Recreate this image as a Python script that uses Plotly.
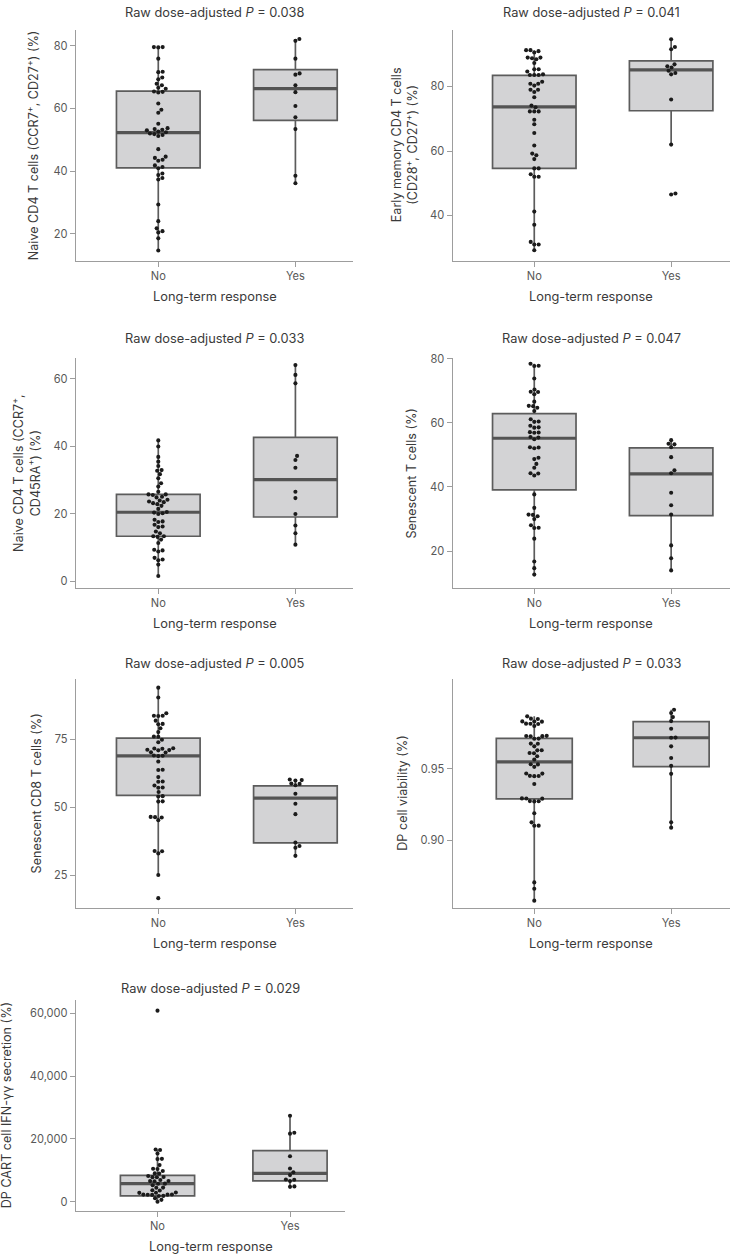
import numpy as np
import plotly.graph_objects as go

W, H = 731, 1255
categories = ["No", "Yes"]

# ---------------- data ----------------
p_values = ["0.038", "0.041", "0.033", "0.047", "0.005", "0.033", "0.029"]

p1_no = [79.6, 79.6, 79.5, 75.9, 71.7, 71.6, 69.9, 69.3, 67.9, 67.4, 66.6, 66.3, 65.4, 65.3, 65.1,
         61.6, 59.6, 58.6, 55.1, 53.7, 53.4, 53.2, 53.0, 52.6, 52.4, 52.0, 51.8, 51.5, 51.2, 47.0,
         44.6, 44.2, 43.6, 43.3, 41.8, 41.3, 40.9, 39.2, 38.7, 37.8, 37.3, 29.3, 24.0, 21.7, 20.8,
         20.4, 18.5, 14.6]
p1_yes = [82.2, 81.6, 75.9, 71.2, 70.8, 67.4, 65.2, 60.8, 57.2, 53.4, 38.5, 36.1]
p1_q1, p1_med, p1_q3 = [41.0, 56.2], [52.3, 66.3], [65.5, 72.4]
p1_lo, p1_hi = [14.6, 36.1], [79.6, 82.2]

p2_no = [91.3, 91.3, 91.0, 90.6, 89.0, 89.0, 88.8, 88.5, 87.3, 85.4, 85.4, 84.7, 83.8, 83.6, 83.6,
         83.6, 81.5, 80.9, 80.9, 80.3, 79.0, 79.0, 78.3, 76.7, 74.1, 73.6, 72.3, 72.3, 72.3, 69.7,
         68.3, 65.6, 61.7, 59.2, 58.7, 57.5, 54.6, 54.6, 52.8, 52.0, 52.0, 41.2, 37.1, 31.8, 31.0,
         31.0, 29.2]
p2_yes = [94.7, 92.3, 91.6, 86.9, 86.3, 85.9, 84.9, 84.2, 83.8, 76.0, 62.0, 46.8, 46.5]
p2_q1, p2_med, p2_q3 = [54.6, 72.5], [73.7, 85.2], [83.5, 88.0]
p2_lo, p2_hi = [29.2, 62.0], [91.3, 94.7]

p3_no = [41.8, 40.0, 36.9, 35.5, 34.2, 33.0, 32.8, 31.8, 30.6, 29.1, 28.1, 26.6, 25.8, 25.8, 25.6,
         25.1, 24.9, 24.2, 24.0, 23.7, 23.5, 23.2, 22.9, 22.4, 21.5, 20.6, 20.4, 20.2, 20.0, 18.3,
         17.8, 17.6, 16.8, 16.3, 16.1, 14.8, 14.3, 13.4, 13.4, 13.2, 12.4, 11.4, 9.4, 9.2, 8.9,
         7.0, 6.5, 6.3, 5.0, 1.6]
p3_yes = [64.1, 61.2, 58.7, 37.2, 36.0, 33.7, 26.6, 24.7, 20.0, 16.6, 14.3, 10.9]
p3_q1, p3_med, p3_q3 = [13.4, 19.1], [20.5, 30.2], [25.8, 42.7]
p3_lo, p3_hi = [1.6, 10.9], [41.8, 64.1]

p4_no = [78.4, 77.8, 77.7, 73.8, 70.4, 69.7, 69.6, 68.9, 66.6, 65.3, 65.2, 64.7, 63.7, 61.1, 60.4,
         60.3, 59.1, 58.6, 58.5, 57.1, 57.0, 56.9, 55.6, 55.4, 54.9, 52.4, 52.3, 52.1, 49.1, 48.7,
         47.2, 46.0, 44.3, 44.2, 43.6, 37.7, 33.5, 31.4, 31.3, 30.9, 30.0, 28.1, 27.3, 27.2, 23.9,
         16.8, 14.7, 12.7]
p4_yes = [54.6, 53.5, 53.3, 52.4, 49.3, 45.2, 44.3, 38.2, 34.3, 31.4, 21.8, 17.8, 14.0]
p4_q1, p4_med, p4_q3 = [39.1, 31.1], [55.2, 44.1], [62.9, 52.2]
p4_lo, p4_hi = [12.7, 14.0], [78.4, 54.6]

p5_no = [93.9, 90.3, 84.5, 83.6, 83.6, 83.5, 81.8, 80.6, 80.5, 79.0, 77.6, 76.0, 75.9, 74.8, 73.9,
         71.7, 71.6, 71.5, 71.1, 71.0, 70.9, 70.2, 70.1, 69.0, 68.9, 68.8, 66.8, 63.8, 63.7, 61.1,
         59.5, 59.4, 58.0, 57.3, 57.2, 55.6, 54.1, 54.0, 52.2, 52.1, 46.5, 46.4, 46.3, 45.3, 34.0,
         33.9, 33.1, 25.2, 16.7]
p5_yes = [60.2, 60.0, 59.8, 58.7, 58.6, 58.1, 55.0, 51.3, 47.5, 37.1, 35.8, 35.2, 32.2]
p5_q1, p5_med, p5_q3 = [54.4, 37.0], [68.9, 53.4], [75.4, 57.9]
p5_lo, p5_hi = [25.2, 32.2], [93.9, 60.2]

p6_no = [0.9866, 0.9850, 0.9848, 0.9831, 0.9830, 0.9829, 0.9815, 0.9814, 0.9813, 0.9799, 0.9730,
         0.9729, 0.9728, 0.9727, 0.9711, 0.9710, 0.9676, 0.9675, 0.9657, 0.9630, 0.9629, 0.9610,
         0.9609, 0.9588, 0.9565, 0.9532, 0.9531, 0.9514, 0.9468, 0.9467, 0.9451, 0.9450, 0.9449,
         0.9394, 0.9294, 0.9293, 0.9292, 0.9275, 0.9274, 0.9273, 0.9190, 0.9127, 0.9104, 0.9103,
         0.8708, 0.8664, 0.8581]
p6_yes = [0.9912, 0.9889, 0.9861, 0.9833, 0.9780, 0.9718, 0.9717, 0.9657, 0.9576, 0.9521,
          0.9465, 0.9127, 0.9090]
p6_q1, p6_med, p6_q3 = [0.9290, 0.9516], [0.9549, 0.9717], [0.9713, 0.9829]
p6_lo, p6_hi = [0.8581, 0.9090], [0.9866, 0.9912]

p7_no = [60840, 16630, 16500, 15370, 13680, 13600, 11680, 10530, 10450, 9790, 9050, 8980, 8210,
         7890, 7850, 7800, 6950, 6630, 6600, 6550, 5790, 5750, 5260, 4530, 4480, 3680, 3620, 2950,
         2900, 2850, 2320, 2300, 2280, 2250, 2200, 1890, 1850, 1160, 630, 0]
p7_yes = [27400, 22000, 21700, 14500, 10600, 9400, 8500, 7100, 7000, 6600, 4900, 4760]
p7_q1, p7_med, p7_q3 = [1900, 6670], [5810, 9080], [8440, 16290]
p7_lo, p7_hi = [0, 4760], [16600, 27400]

y_titles = [
    "Naive CD4 T cells (CCR7<sup>+</sup>, CD27<sup>+</sup>) (%)",
    "Early memory CD4 T cells<br>(CD28<sup>+</sup>, CD27<sup>+</sup>) (%)",
    "Naive CD4 T cells (CCR7<sup>+</sup>,<br>CD45RA<sup>+</sup>) (%)",
    "Senescent T cells (%)",
    "Senescent CD8 T cells (%)",
    "DP cell viability (%)",
    "DP CART cell IFN-γγ secretion (%)",
]
x_title = "Long-term response"

# ---------------- layout geometry (pixels) ----------------
colL, colR, col7 = (76, 353), (452.7, 730), (76, 345)
rows = [(24, 256), (354, 585), (676.7, 907), (1000, 1211.5)]
title_y = [7, 334.7, 661.3, 987.8]

panels = [
    dict(no=p1_no, yes=p1_yes, q1=p1_q1, med=p1_med, q3=p1_q3, lo=p1_lo, hi=p1_hi, r=0,
         col=colL, yr=[11.4, 85.1], tv=[20, 40, 60, 80], fmt="", xr=[-0.6, 1.42], bw=0.61, yt_x=32),
    dict(no=p2_no, yes=p2_yes, q1=p2_q1, med=p2_med, q3=p2_q3, lo=p2_lo, hi=p2_hi, r=0,
         col=colR, yr=[26, 97.6], tv=[40, 60, 80], fmt="", xr=[-0.596, 1.43], bw=0.61, yt_x=404),
    dict(no=p3_no, yes=p3_yes, q1=p3_q1, med=p3_med, q3=p3_q3, lo=p3_lo, hi=p3_hi, r=1,
         col=colL, yr=[-1.86, 66.2], tv=[0, 20, 40, 60], fmt="", xr=[-0.6, 1.42], bw=0.61, yt_x=26),
    dict(no=p4_no, yes=p4_yes, q1=p4_q1, med=p4_med, q3=p4_q3, lo=p4_lo, hi=p4_hi, r=1,
         col=colR, yr=[8.6, 80.2], tv=[20, 40, 60, 80], fmt="", xr=[-0.596, 1.43], bw=0.61, yt_x=411.7),
    dict(no=p5_no, yes=p5_yes, q1=p5_q1, med=p5_med, q3=p5_q3, lo=p5_lo, hi=p5_hi, r=2,
         col=colL, yr=[13.1, 97.1], tv=[25, 50, 75], fmt="", xr=[-0.6, 1.42], bw=0.61, yt_x=36),
    dict(no=p6_no, yes=p6_yes, q1=p6_q1, med=p6_med, q3=p6_q3, lo=p6_lo, hi=p6_hi, r=2,
         col=colR, yr=[0.853, 1.0127], tv=[0.90, 0.95], fmt=".2f", xr=[-0.596, 1.43], bw=0.555, yt_x=402.3),
    dict(no=p7_no, yes=p7_yes, q1=p7_q1, med=p7_med, q3=p7_q3, lo=p7_lo, hi=p7_hi, r=3,
         col=col7, yr=[-2840, 64100], tv=[0, 20000, 40000, 60000], fmt=",", xr=[-0.615, 1.415], bw=0.56, yt_x=6.7),
]

FONT = "Inter, Roboto, sans-serif"
TXT = "#3a3a3a"
TICK = "#585858"
AX = "#9d9d9d"
BOXLINE = "#5c5c5c"
BOXFILL = "#d3d3d5"
DOT = "#1b1b1b"


def swarm_offsets(vals, ppu_y, ppu_x, d=4.4):
    ys = np.asarray(vals, float) * ppu_y
    order = np.argsort(ys)
    px_, py_ = [], []
    xs = np.zeros(len(ys))
    for i in order:
        y = ys[i]
        cands = [0.0]
        for a, b in zip(px_, py_):
            dy = abs(y - b)
            if dy < d:
                dx = np.sqrt(d * d - dy * dy)
                cands += [a + dx, a - dx]
        cands.sort(key=lambda c: (abs(c), -c))
        chosen = cands[-1]
        for c in cands:
            if all((c - a) ** 2 + (y - b) ** 2 >= d * d - 1e-6 for a, b in zip(px_, py_)):
                chosen = c
                break
        xs[i] = chosen
        px_.append(chosen)
        py_.append(y)
    return xs / ppu_x


fig = go.Figure()
annotations = []

for k, p in enumerate(panels):
    n = "" if k == 0 else str(k + 1)
    xa, ya = "x" + n, "y" + n
    x0, x1 = p["col"]
    t, b = rows[p["r"]]
    wpx, hpx = x1 - x0, b - t
    ppu_x = wpx / (p["xr"][1] - p["xr"][0])
    ppu_y = hpx / (p["yr"][1] - p["yr"][0])

    fig.add_trace(go.Box(
        x=[0, 1], q1=p["q1"], median=p["med"], q3=p["q3"],
        lowerfence=p["lo"], upperfence=p["hi"], width=p["bw"],
        fillcolor=BOXFILL, line=dict(color=BOXLINE, width=1.7), whiskerwidth=0,
        boxpoints=False, hoverinfo="skip", showlegend=False, xaxis=xa, yaxis=ya))

    # thicker median lines
    mx, my = [], []
    for i, m in enumerate(p["med"]):
        mx += [i - p["bw"] / 2, i + p["bw"] / 2, None]
        my += [m, m, None]
    fig.add_trace(go.Scatter(x=mx, y=my, mode="lines", line=dict(color="#545454", width=3.2),
                             hoverinfo="skip", showlegend=False, xaxis=xa, yaxis=ya))

    for i, vals in enumerate([p["no"], p["yes"]]):
        off = swarm_offsets(vals, ppu_y, ppu_x)
        fig.add_trace(go.Scatter(x=i + off, y=vals, mode="markers",
                                 marker=dict(color=DOT, size=4.1, line=dict(width=0)),
                                 hoverinfo="skip", showlegend=False, xaxis=xa, yaxis=ya))

    xkey = "xaxis" + n
    ykey = "yaxis" + n
    fig.layout[xkey] = dict(
        domain=[x0 / W, x1 / W], anchor=ya, range=p["xr"], tickvals=[0, 1], ticktext=categories,
        showline=True, linecolor=AX, linewidth=1.2, ticks="outside", ticklen=5, tickcolor=AX,
        tickwidth=1, showgrid=False, zeroline=False,
        tickfont=dict(family=FONT, size=11.1, color=TICK), fixedrange=True)
    fig.layout[ykey] = dict(
        domain=[1 - b / H, 1 - t / H], anchor=xa, range=p["yr"], tickvals=p["tv"],
        tickformat=p["fmt"], showline=True, linecolor=AX, linewidth=1.2, ticks="outside",
        ticklen=5, tickcolor=AX, tickwidth=1, showgrid=False, zeroline=False,
        tickfont=dict(family=FONT, size=11.1, color=TICK), fixedrange=True)

    cx = (x0 + x1) / 2
    # panel title
    annotations.append(dict(
        text="Raw dose-adjusted <i>P</i> = " + p_values[k], x=cx / W, y=1 - title_y[p["r"]] / H,
        xref="paper", yref="paper", xanchor="center", yanchor="middle", showarrow=False,
        font=dict(family=FONT, size=12.8, color=TXT)))
    # x-axis title
    annotations.append(dict(
        text=x_title, x=cx / W, y=1 - (b + 36) / H, xref="paper", yref="paper",
        xanchor="center", yanchor="middle", showarrow=False,
        font=dict(family=FONT, size=12.8, color=TXT)))
    # y-axis title
    annotations.append(dict(
        text=y_titles[k], x=p["yt_x"] / W, y=1 - ((t + b) / 2) / H, xref="paper", yref="paper",
        xanchor="center", yanchor="middle", textangle=-90, showarrow=False,
        font=dict(family=FONT, size=12.6, color=TXT)))

fig.update_layout(
    width=W, height=H, autosize=False, margin=dict(l=0, r=0, t=0, b=0),
    paper_bgcolor="white", plot_bgcolor="white", annotations=annotations,
    font=dict(family=FONT, color=TXT))

fig.write_html("out.html", config={"displayModeBar": False, "staticPlot": True},
               post_script="document.body.style.margin='0';document.body.style.overflow='hidden';")
